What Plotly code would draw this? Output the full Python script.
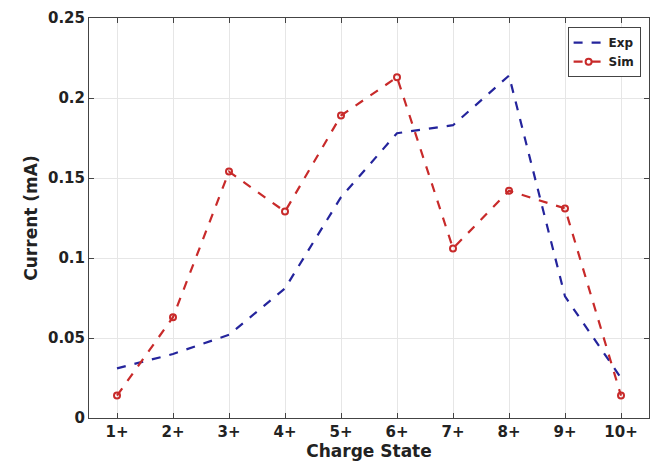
import plotly.graph_objects as go

categories = ["1+", "2+", "3+", "4+", "5+", "6+", "7+", "8+", "9+", "10+"]
x_pos = [1, 2, 3, 4, 5, 6, 7, 8, 9, 10]
exp_vals = [0.031, 0.040, 0.052, 0.081, 0.138, 0.178, 0.183, 0.214, 0.076, 0.025]
sim_vals = [0.014, 0.063, 0.154, 0.129, 0.189, 0.213, 0.106, 0.142, 0.131, 0.014]
y_ticks = [0, 0.05, 0.1, 0.15, 0.2, 0.25]
y_labels = ["0", "0.05", "0.1", "0.15", "0.2", "0.25"]

fig = go.Figure()
fig.add_trace(go.Scatter(x=x_pos, y=exp_vals, mode="lines", name="Exp",
                         line=dict(color="#24249c", width=2.2, dash="dash")))
fig.add_trace(go.Scatter(x=x_pos, y=sim_vals, mode="lines+markers", name="Sim",
                         line=dict(color="#c82a2a", width=2.2, dash="dash"),
                         marker=dict(symbol="circle-open", size=6, color="#c82a2a",
                                     line=dict(width=2))))

axis_common = dict(showline=True, linecolor="#444", linewidth=1, mirror="ticks",
                   ticks="inside", ticklen=5, tickcolor="#444",
                   showgrid=True, gridcolor="#e6e6e6", gridwidth=1, zeroline=False,
                   tickfont=dict(family="DejaVu Sans", size=15, color="#222", weight="bold"))

fig.update_xaxes(range=[0.5, 10.5], tickmode="array", tickvals=x_pos, ticktext=categories,
                 title=dict(text="Charge State", standoff=4,
                            font=dict(family="DejaVu Sans", size=17, color="#222", weight="bold")),
                 **axis_common)
fig.update_yaxes(range=[0, 0.25], tickmode="array", tickvals=y_ticks, ticktext=y_labels,
                 title=dict(text="Current (mA)", standoff=6,
                            font=dict(family="DejaVu Sans", size=17, color="#222", weight="bold")),
                 **axis_common)

fig.update_layout(width=659, height=466, margin=dict(l=89, r=9, t=16, b=47),
                  paper_bgcolor="white", plot_bgcolor="white", showlegend=True,
                  legend=dict(x=0.985, y=0.977, xanchor="right", yanchor="top",
                              bgcolor="white", bordercolor="#444", borderwidth=1,
                              font=dict(family="DejaVu Sans", size=12, color="#222", weight="bold"),
                              tracegroupgap=0, itemwidth=30))

fig.write_html("out.html")
